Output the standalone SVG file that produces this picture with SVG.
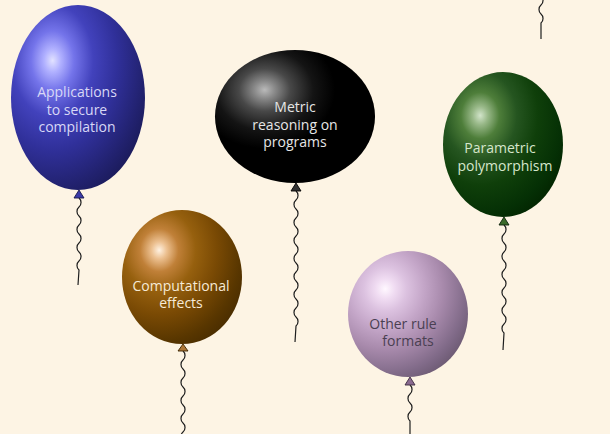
<svg xmlns="http://www.w3.org/2000/svg" xmlns:xlink="http://www.w3.org/1999/xlink" width="610" height="434" viewBox="0 0 610 434">
  <style>
    .label { font-family: "Open Sans", "Noto Sans", "DejaVu Sans", sans-serif; font-size: 14px; text-anchor: middle; }
    .string { fill: none; stroke: #1e1e1e; stroke-width: 1.2; }
    .knot { stroke-width: 0.9; stroke-linejoin: round; }
  </style>
  <defs>
    <!-- shared ball-shading geometry: highlight towards the upper left -->
    <radialGradient id="ball" cx="0.31" cy="0.30" r="0.8" fx="0.31" fy="0.30"/>
    <radialGradient id="g-blue" xlink:href="#ball">
      <stop offset="0" stop-color="#e2e2ff"/>
      <stop offset="0.08" stop-color="#b0b0ff"/>
      <stop offset="0.2" stop-color="#7474ea"/>
      <stop offset="0.38" stop-color="#4242bc"/>
      <stop offset="0.6" stop-color="#30309a"/>
      <stop offset="0.85" stop-color="#222270"/>
      <stop offset="1" stop-color="#1a1a58"/>
    </radialGradient>
    <radialGradient id="g-black" xlink:href="#ball">
      <stop offset="0" stop-color="#bababa"/>
      <stop offset="0.08" stop-color="#8a8a8a"/>
      <stop offset="0.2" stop-color="#484848"/>
      <stop offset="0.38" stop-color="#141414"/>
      <stop offset="0.55" stop-color="#000000"/>
      <stop offset="1" stop-color="#000000"/>
    </radialGradient>
    <radialGradient id="g-green" xlink:href="#ball">
      <stop offset="0" stop-color="#d2e4ca"/>
      <stop offset="0.08" stop-color="#98b888"/>
      <stop offset="0.2" stop-color="#4e7e3a"/>
      <stop offset="0.38" stop-color="#255520"/>
      <stop offset="0.6" stop-color="#0f3f0a"/>
      <stop offset="0.85" stop-color="#053005"/>
      <stop offset="1" stop-color="#022400"/>
    </radialGradient>
    <radialGradient id="g-brown" xlink:href="#ball">
      <stop offset="0" stop-color="#fff2e2"/>
      <stop offset="0.08" stop-color="#ecc090"/>
      <stop offset="0.2" stop-color="#c08038"/>
      <stop offset="0.38" stop-color="#96600e"/>
      <stop offset="0.6" stop-color="#7a4a04"/>
      <stop offset="0.85" stop-color="#583600"/>
      <stop offset="1" stop-color="#482c00"/>
    </radialGradient>
    <radialGradient id="g-lilac" xlink:href="#ball">
      <stop offset="0" stop-color="#fff8ff"/>
      <stop offset="0.1" stop-color="#f0dcf2"/>
      <stop offset="0.22" stop-color="#dcc2e0"/>
      <stop offset="0.4" stop-color="#c4a6c8"/>
      <stop offset="0.6" stop-color="#a88aac"/>
      <stop offset="0.85" stop-color="#806a88"/>
      <stop offset="1" stop-color="#6a5870"/>
    </radialGradient>
  </defs>

  <rect width="610" height="434" fill="#fdf4e4"/>

  <!-- strings: smooth waves of 18px period, straight at the lower end -->
  <g id="strings">
    <path class="string" d="M541,-4 c2.7,2.25 2.7,6.75 0,9 s-2.7,6.75 0,9 s2.7,6.75 0,9 L541,39"/>
    <path class="string" d="M79,198 c2.7,2.25 2.7,6.75 0,9 s-2.7,6.75 0,9 s2.7,6.75 0,9 s-2.7,6.75 0,9 s2.7,6.75 0,9 s-2.7,6.75 0,9 s2.7,6.75 0,9 s-2.7,6.75 0,9 L78,285"/>
    <path class="string" d="M296,191 c2.7,2.25 2.7,6.75 0,9 s-2.7,6.75 0,9 s2.7,6.75 0,9 s-2.7,6.75 0,9 s2.7,6.75 0,9 s-2.7,6.75 0,9 s2.7,6.75 0,9 s-2.7,6.75 0,9 s2.7,6.75 0,9 s-2.7,6.75 0,9 s2.7,6.75 0,9 s-2.7,6.75 0,9 s2.7,6.75 0,9 s-2.7,6.75 0,9 s2.7,6.75 0,9 L295,342"/>
    <path class="string" d="M504,225 c2.7,2.25 2.7,6.75 0,9 s-2.7,6.75 0,9 s2.7,6.75 0,9 s-2.7,6.75 0,9 s2.7,6.75 0,9 s-2.7,6.75 0,9 s2.7,6.75 0,9 s-2.7,6.75 0,9 s2.7,6.75 0,9 s-2.7,6.75 0,9 s2.7,6.75 0,9 s-2.7,6.75 0,9 L503,350"/>
    <path class="string" d="M183,351 c2.7,2.25 2.7,6.75 0,9 s-2.7,6.75 0,9 s2.7,6.75 0,9 s-2.7,6.75 0,9 s2.7,6.75 0,9 s-2.7,6.75 0,9 s2.7,6.75 0,9 s-2.7,6.75 0,9 s2.7,6.75 0,9 s-2.7,6.75 0,9"/>
    <path class="string" d="M410,385 c2.7,2.25 2.7,6.75 0,9 s-2.7,6.75 0,9 s2.7,6.75 0,9 s-2.7,6.75 0,9 L410,440"/>
  </g>

  <g id="secure-compilation">
    <ellipse cx="78" cy="97.5" rx="67" ry="92.5" fill="url(#g-blue)"/>
    <polygon class="knot" points="79,190 84,198 74,198" fill="#3a3aa8" stroke="#16164a"/>
    <text class="label" fill="#d8d8f6"><tspan x="77" y="97">Applications</tspan><tspan x="77" y="114.5">to secure</tspan><tspan x="77" y="132">compilation</tspan></text>
  </g>

  <g id="metric-reasoning">
    <ellipse cx="295" cy="116.5" rx="80" ry="66.5" fill="url(#g-black)"/>
    <polygon class="knot" points="296,183 301,191 291,191" fill="#333333" stroke="#000000"/>
    <text class="label" fill="#e6e6e6"><tspan x="295" y="112">Metric</tspan><tspan x="295" y="129.5">reasoning on</tspan><tspan x="295" y="147">programs</tspan></text>
  </g>

  <g id="parametric-polymorphism">
    <ellipse cx="503" cy="144.5" rx="60" ry="72.5" fill="url(#g-green)"/>
    <polygon class="knot" points="504,217 509,225 499,225" fill="#3a6a2a" stroke="#0a200a"/>
    <text class="label" fill="#d6e6cc"><tspan x="500" y="153">Parametric</tspan><tspan x="505" y="170.5">polymorphism</tspan></text>
  </g>

  <g id="computational-effects">
    <ellipse cx="182" cy="277" rx="60" ry="67" fill="url(#g-brown)"/>
    <polygon class="knot" points="183,344 188,351 178,351" fill="#b07838" stroke="#3a2400"/>
    <text class="label" fill="#f6ead6"><tspan x="181" y="290.5">Computational</tspan><tspan x="181" y="307.5">effects</tspan></text>
  </g>

  <g id="other-rule-formats">
    <ellipse cx="408" cy="314" rx="60" ry="63" fill="url(#g-lilac)"/>
    <polygon class="knot" points="410,377 415,385 405,385" fill="#8a6a90" stroke="#3a2a40"/>
    <text class="label" fill="#4a4052"><tspan x="403" y="328.5">Other rule</tspan><tspan x="408" y="346">formats</tspan></text>
  </g>
</svg>
